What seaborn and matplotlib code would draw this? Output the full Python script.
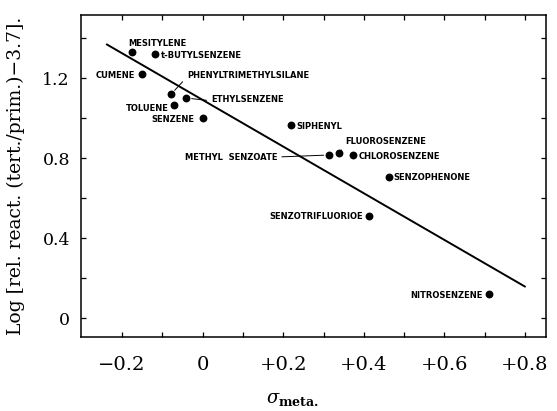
"""Hammett plot: log relative reactivity vs sigma_meta."""

import matplotlib

matplotlib.use("Agg")
import matplotlib.pyplot as plt
import pandas as pd
import seaborn as sns
from matplotlib.ticker import FixedLocator, FuncFormatter

compounds = [
    "MESITYLENE", "t-BUTYLSENZENE", "CUMENE", "PHENYLTRIMETHYLSILANE",
    "ETHYLSENZENE", "TOLUENE", "SENZENE", "SIPHENYL", "METHYL  SENZOATE",
    "FLUOROSENZENE", "CHLOROSENZENE", "SENZOPHENONE", "SENZOTRIFLUORIOE",
    "NITROSENZENE",
]
sigma_meta = [-0.176, -0.118, -0.150, -0.079, -0.041, -0.070, 0.0, 0.218,
              0.314, 0.339, 0.372, 0.462, 0.413, 0.711]
log_rel = [1.33, 1.318, 1.218, 1.118, 1.10, 1.065, 1.00, 0.963,
           0.815, 0.823, 0.815, 0.707, 0.512, 0.118]

fit_x = [-0.238, 0.80]
fit_y = [1.368, 0.157]

x_ticks = [-0.2, -0.1, 0.0, 0.1, 0.2, 0.3, 0.4, 0.5, 0.6, 0.7, 0.8]
x_labels = {-0.2: "\u22120.2", 0.0: "0", 0.2: "+0.2", 0.4: "+0.4", 0.6: "+0.6", 0.8: "+0.8"}
y_ticks = [0.0, 0.2, 0.4, 0.6, 0.8, 1.0, 1.2, 1.4]
y_labels = {0.0: "0", 0.4: "0.4", 0.8: "0.8", 1.2: "1.2"}

# label placement: offset in pixels from the dot, alignment, leader line
label_style = {
    "MESITYLENE": ((-4, 10), "left", False),
    "t-BUTYLSENZENE": ((6, 0), "left", False),
    "CUMENE": ((-7, 0), "right", False),
    "PHENYLTRIMETHYLSILANE": ((16, 20), "left", True),
    "ETHYLSENZENE": ((25, 0), "left", True),
    "TOLUENE": ((-6, -2), "right", False),
    "SENZENE": ((-8, 0), "right", False),
    "SIPHENYL": ((6, 0), "left", False),
    "METHYL  SENZOATE": ((-52, -1), "right", True),
    "FLUOROSENZENE": ((6, 13), "left", True),
    "CHLOROSENZENE": ((6, 0), "left", False),
    "SENZOPHENONE": ((5, 0), "left", False),
    "SENZOTRIFLUORIOE": ((-6, 0), "right", False),
    "NITROSENZENE": ((-7, 0), "right", False),
}

df = pd.DataFrame({"compound": compounds, "sigma": sigma_meta, "logk": log_rel})
fit = pd.DataFrame({"sigma": fit_x, "logk": fit_y})

sns.set_theme(style="white")
plt.rcParams["font.family"] = ["DejaVu Serif"]
plt.rcParams["mathtext.fontset"] = "dejavuserif"
plt.rcParams.update({"text.color": "black", "axes.labelcolor": "black",
                     "xtick.color": "black", "ytick.color": "black"})

fig = plt.figure(figsize=(5.57, 4.11), dpi=100)
ax = fig.add_axes([0.1454, 0.180, 0.8348, 0.7835])

sns.lineplot(data=fit, x="sigma", y="logk", color="black", linewidth=1.4, ax=ax)
sns.scatterplot(data=df, x="sigma", y="logk", color="black", s=32,
                edgecolor="black", linewidth=0, zorder=3, ax=ax)

for _, row in df.iterrows():
    (dx, dy), ha, leader = label_style[row["compound"]]
    arrow = None
    if leader:
        arrow = dict(arrowstyle="-", color="black", lw=0.7, shrinkA=1, shrinkB=4,
                     relpos=(0.0, 0.3) if ha == "left" else (1.0, 0.5))
    ax.annotate(
        row["compound"],
        (row["sigma"], row["logk"]),
        textcoords="offset pixels",
        xytext=(dx, dy),
        ha=ha,
        va="center_baseline",
        fontsize=6,
        fontweight="bold",
        family="DejaVu Sans",
        color="black",
        arrowprops=arrow,
    )

ax.set_xlim(-0.302, 0.852)
ax.set_ylim(-0.095, 1.515)
ax.xaxis.set_major_locator(FixedLocator(x_ticks))
ax.yaxis.set_major_locator(FixedLocator(y_ticks))
ax.xaxis.set_major_formatter(FuncFormatter(lambda v, _: x_labels.get(round(v, 1), "")))
ax.yaxis.set_major_formatter(FuncFormatter(lambda v, _: y_labels.get(round(v, 1), "")))
ax.tick_params(axis="both", direction="in", length=3.5, width=0.9, color="black",
               top=True, right=True, bottom=True, left=True)
ax.tick_params(axis="x", pad=14, labelsize=14)
ax.tick_params(axis="y", pad=8, labelsize=12.5)

for spine in ax.spines.values():
    spine.set_color("black")
    spine.set_linewidth(1.1)

ax.set_xlabel(r"$\sigma_{\mathbf{meta.}}$", fontsize=13)
ax.set_ylabel("Log [rel. react. (tert./prim.)\u22123.7].", fontsize=13.5)
ax.xaxis.set_label_coords(0.454, -0.165)
ax.yaxis.set_label_coords(-0.12, 0.5)

fig.savefig("out.png", dpi=100)
